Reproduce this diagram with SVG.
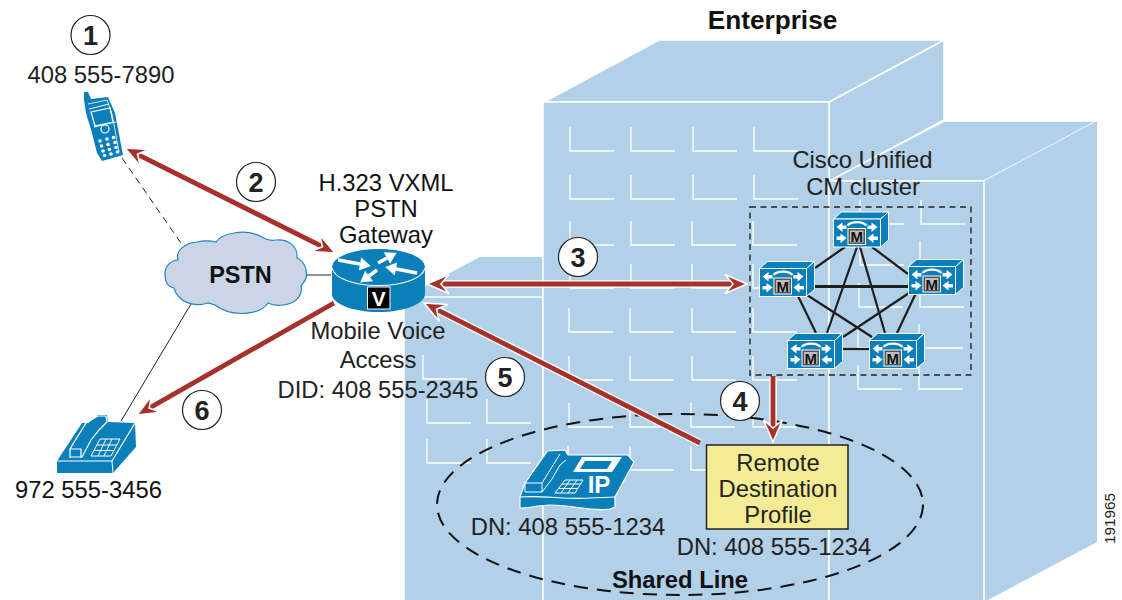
<svg xmlns="http://www.w3.org/2000/svg" xmlns:xlink="http://www.w3.org/1999/xlink" width="1122" height="600" viewBox="0 0 1122 600">
<style>
text{font-family:"Liberation Sans",Arial,sans-serif;font-size:23.8px;fill:#222;text-anchor:middle}
.b{font-weight:bold;fill:#111}
.num{font-weight:bold;font-size:27px;fill:#222}
.bld{fill:#b2d0e8;stroke:#fff;stroke-width:1.5}
.win{fill:none;stroke:#fff;stroke-width:1.3}
.circ{fill:#fff;stroke:#222;stroke-width:1.2}
.blue{fill:#0a7fba}
.wl{fill:none;stroke:#fff;stroke-width:1}
.halo{stroke:#fff;stroke-width:7.5;fill:none}
.arr{stroke:#a5322a;stroke-width:4.8;fill:none}
.mesh{stroke:#1e1e1e;stroke-width:2.2;fill:none}
.thin{stroke:#222;stroke-width:1;fill:none}
.mt{font-weight:bold;font-size:15px;fill:#111}
</style>
<defs>
<marker id="head" markerUnits="userSpaceOnUse" markerWidth="36" markerHeight="32" refX="9" refY="16" orient="auto-start-reverse"><path d="M1,6.5 L23,16 L1,25.5 L9,16 Z" fill="#a5322a" stroke="#fff" stroke-width="1.6"/></marker>
<marker id="wh" markerUnits="userSpaceOnUse" markerWidth="16" markerHeight="16" refX="3" refY="8" orient="auto"><path d="M3,1.5 L14,8 L3,14.5 Z" fill="#fff"/></marker>
<g id="w"><path class="win" d="M0,-24 V0 H44"/></g>
<g id="cube">
<path d="M0,0 L8,-7 H55 L47,0 Z" class="blue" stroke="#fff" stroke-width="1"/>
<path d="M47,0 L55,-7 V21 L47,28 Z" class="blue" stroke="#fff" stroke-width="1"/>
<rect x="0" y="0" width="47" height="28" class="blue" stroke="#fff" stroke-width="1"/>
<path d="M14,6.5 C18,2 29,2 33,6.5" fill="none" stroke="#fff" stroke-width="2.2"/>
<path d="M3,8 L9,3.5 V6.5 H13 V10 H9 V13 Z M13,19 L7,14.5 V17.5 H3 V21 H7 V24 Z M44,8 L38,3.5 V6.5 H34 V10 H38 V13 Z M34,19 L40,14.5 V17.5 H44.5 V21 H40 V24 Z" fill="#fff"/>
<rect x="14.5" y="9.5" width="17.5" height="16" fill="#555" stroke="#fff" stroke-width="1"/>
<rect x="16.5" y="11.5" width="13.5" height="12" fill="#bdbdbd"/>
</g>
</defs>

<g id="buildings">
<path class="bld" d="M829,102 L944,40 V120 L829,182 Z"/>
<path class="bld" d="M544,102 L659,40 H944 L829,102 Z"/>
<path class="bld" d="M829,181 L944,121 H1097 L984,181 Z"/>
<path class="bld" style="stroke:none" d="M984,181 L1097,121 V542 L988,600 H984 Z"/>
<path class="bld" d="M404,297 L480,257 H544 V297 Z" style="stroke:none"/>
<rect class="bld" x="404" y="297" width="139" height="310"/>
<rect class="bld" x="543" y="102" width="286" height="505"/>
<rect class="bld" x="829" y="181" width="155" height="425"/>
<g id="windows">
<use href="#w" x="570" y="151"/><use href="#w" x="631" y="151"/><use href="#w" x="693" y="151"/><use href="#w" x="754" y="151"/>
<use href="#w" x="570" y="199"/><use href="#w" x="631" y="199"/><use href="#w" x="693" y="199"/><use href="#w" x="754" y="199"/>
<use href="#w" x="570" y="245"/><use href="#w" x="631" y="245"/><use href="#w" x="692" y="245"/><use href="#w" x="753" y="245"/>
<use href="#w" x="570" y="288"/><use href="#w" x="631" y="288"/><use href="#w" x="692" y="288"/><use href="#w" x="753" y="288"/>
<use href="#w" x="569" y="332"/><use href="#w" x="630" y="332"/><use href="#w" x="692" y="332"/><use href="#w" x="753" y="332"/>
<use href="#w" x="569" y="380"/><use href="#w" x="630" y="380"/><use href="#w" x="692" y="380"/><use href="#w" x="753" y="380"/>
<use href="#w" x="569" y="427"/><use href="#w" x="630" y="427"/><use href="#w" x="691" y="427"/><use href="#w" x="753" y="427"/>
<use href="#w" x="568" y="470"/><use href="#w" x="630" y="470"/><use href="#w" x="691" y="470"/>
<use href="#w" x="423" y="379"/><use href="#w" x="427" y="423"/><use href="#w" x="487" y="423"/><use href="#w" x="427" y="463"/><use href="#w" x="487" y="463"/>
<use href="#w" x="860" y="224"/><use href="#w" x="921" y="224"/><use href="#w" x="860" y="265"/><use href="#w" x="920" y="265"/>
<use href="#w" x="859" y="307"/><use href="#w" x="920" y="307"/><use href="#w" x="858" y="348"/><use href="#w" x="919" y="348"/><use href="#w" x="858" y="389"/><use href="#w" x="919" y="389"/>
</g>
</g>

<text x="772.5" y="29" class="b" style="font-size:26.2px">Enterprise</text>
<text x="862.5" y="168">Cisco Unified</text>
<text x="863" y="195">CM cluster</text>
<rect id="cluster-box" x="750" y="207" width="221" height="168" fill="none" stroke="#222" stroke-width="1.4" stroke-dasharray="6,4.5"/>
<ellipse id="shared-line-ellipse" cx="680" cy="504.5" rx="243" ry="90.5" fill="none" stroke="#111" stroke-width="2" stroke-dasharray="14,9"/>

<g id="connectors">
<path class="thin" stroke-dasharray="7,5" d="M122,158 L183,246"/>
<path class="thin" d="M306,275 H331"/>
<path class="thin" d="M191,304 L121,421"/>
<g id="mesh">
<path class="mesh" d="M845,247 L815,268"/>
<path class="mesh" d="M872,247 L908,274"/>
<path class="mesh" d="M857,247 L827,333"/>
<path class="mesh" d="M860,247 L885,333"/>
<path class="mesh" d="M798,296 L816,333"/>
<path class="mesh" d="M807,295 L872,337"/>
<path class="mesh" d="M909,293 L843,337"/>
<path class="mesh" d="M916,293 L897,333"/>
<path class="mesh" style="stroke-width:2.8" d="M815,286.5 H909"/>
<path class="mesh" d="M843,349 H870"/>
</g>
</g>

<g id="node-cloud">
<path d="M165,275 C164,266 172,260 178,260 C175,250 186,243 197,242 C205,240 212,241 216,242 C222,233 246,228 262,237 C268,241 272,241 276,240 C288,239 298,246 297,258 C304,261 308,270 306,278 C305,282 302,284 301,286 C303,296 295,304 283,305 C277,306 272,305 268,303 C260,315 232,318 215,305 L208,303 C195,307 178,303 174,288 C168,287 165,282 165,275Z" fill="#cbd5e5" stroke="#1e86c0" stroke-width="1.2"/>
<text x="240.5" y="283" class="b" style="font-size:23.5px">PSTN</text>
</g>

<g id="node-router">
<path d="M332,267 V294 C332,304 353,312 378.5,312 C404,312 425,304 425,294 V267 Z" class="blue"/>
<ellipse cx="378.5" cy="267" rx="46.5" ry="18" class="blue"/>
<path d="M332,268 C334,278 353,285.5 378.5,285.5 C404,285.5 423,278 425,268" fill="none" stroke="#fff" stroke-width="1.2"/>
<g stroke="#fff" stroke-width="3.6" fill="none">
<path d="M338,260 L360,264" marker-end="url(#wh)"/>
<path d="M378,263 L387,258" marker-end="url(#wh)"/>
<path d="M377,270 L369,276" marker-end="url(#wh)"/>
<path d="M417,273 L396,269" marker-end="url(#wh)"/>
</g>
<rect x="367.5" y="287" width="22.5" height="22" fill="#000" stroke="#fff" stroke-width="1"/>
<text x="378.7" y="306" style="font-weight:bold;font-size:21px;fill:#fff">V</text>
</g>

<g id="node-mobile">
<path class="blue" d="M84,92 L88,92 L91,99 L108,97 L115,113 L123,155 L102,161 L97,153 L92,133 L86,113 L84,100 Z"/>
<path d="M88,104 L107,100 L112,114 L119,152" fill="none" stroke="#fff" stroke-width="0.8"/>
<path d="M91,112 L110,108 L113,122 L95,126 Z" fill="#0a7fba" stroke="#fff" stroke-width="1.2"/>
<path d="M89,109 L109,104" stroke="#fff" stroke-width="1"/>
<circle cx="105" cy="129" r="4" fill="#0a7fba" stroke="#fff" stroke-width="1.2"/>
<path d="M94,127 L116,122" stroke="#fff" stroke-width="1"/>
<g fill="#fff">
<circle cx="100" cy="141" r="1.8"/><circle cx="107" cy="139" r="1.8"/><circle cx="113.5" cy="137.5" r="1.8"/>
<circle cx="101.5" cy="146" r="1.8"/><circle cx="108" cy="144.5" r="1.8"/><circle cx="115" cy="142.5" r="1.8"/>
<circle cx="103" cy="151" r="1.8"/><circle cx="109.5" cy="149.5" r="1.8"/><circle cx="116" cy="147.5" r="1.8"/>
<circle cx="104.5" cy="155.5" r="1.8"/><circle cx="111" cy="154" r="1.8"/><circle cx="117.5" cy="152" r="1.8"/>
</g>
</g>

<g id="node-deskphone">
<path class="blue" d="M57,461 L82,423 L88,423 L98,415 L107,415 L108,422 L135,423 L136,447 L113,473 H57 Z"/>
<path class="wl" style="stroke-width:1.2" d="M57,461 H112 L135,423"/>
<path class="wl" d="M112,461 L113,473"/>
<path class="wl" style="stroke-width:1.2" d="M70,458 V449 L86,423 L98,416 H106 L107,422 L99,430 L91,440 L82,457 H70 Z M70,449 H81 V458"/>
<path class="wl" d="M91,456 L100,439 H120 L111,456 Z M94,450.5 H114 M97,445 H117 M98,456 L106,439 M104,456 L112,439"/>
<text x="88.5" y="498" style="fill:#111">972 555-3456</text>
</g>

<g id="node-mobile-label">
<text x="101" y="83">408 555-7890</text>
</g>

<g id="node-gateway-label">
<text x="386" y="190.5" style="fill:#111">H.323 VXML</text>
<text x="386" y="217" style="fill:#111">PSTN</text>
<text x="386" y="243" style="fill:#111">Gateway</text>
<text x="378" y="339">Mobile Voice</text>
<text x="378" y="368">Access</text>
<text x="378" y="398">DID: 408 555-2345</text>
</g>

<g id="node-ipphone">
<path class="blue" stroke="#fff" stroke-width="1.2" d="M520,497 L525,483 L547,451 L565,450 L568,455 L628,455 L634,462 L615,497 V507 L610,509 C590,512 575,505 550,505 C540,505 530,508 520,508 Z"/>
<path class="wl" style="stroke-width:1.2" d="M520,497 C540,495 570,500 590,498 L615,497"/>
<path class="wl" d="M525,483 V492 H542 V483 H525 M542,483 L560,454 M525,483 L547,452 M542,492 L552,479 L560,465 L566,460"/>
<path d="M573,472 L582,457 H622 L612,472 Z" fill="#fff"/>
<path d="M580,469 L585,461 H612 L607,469 Z" class="blue"/>
<path class="wl" d="M555,493 L565,480 H583 L575,493 Z M558.5,488.5 H578 M562,484 H581 M561,493 L570,480 M568,493 L577,480"/>
<text x="599" y="493" style="font-weight:bold;font-size:24px;fill:#fff">IP</text>
<text x="568" y="535">DN: 408 555-1234</text>
</g>

<g id="node-rdp">
<rect x="706.5" y="445" width="141.5" height="84" fill="#f5eb95" stroke="#222" stroke-width="1.5"/>
<text x="778" y="471">Remote</text>
<text x="778" y="497">Destination</text>
<text x="778" y="523">Profile</text>
<text x="774" y="555">DN: 408 555-1234</text>
</g>
<text id="shared-line-label" x="680" y="588" class="b">Shared Line</text>

<g id="node-cm1"><use href="#cube" x="833.5" y="219"/><text x="856.8" y="242" class="mt">M</text></g>
<g id="node-cm2"><use href="#cube" x="759.5" y="268.5"/><text x="782.8" y="291.5" class="mt">M</text></g>
<g id="node-cm3"><use href="#cube" x="908.5" y="266.5"/><text x="931.8" y="289.5" class="mt">M</text></g>
<g id="node-cm4"><use href="#cube" x="787.5" y="340.5"/><text x="810.8" y="363.5" class="mt">M</text></g>
<g id="node-cm5"><use href="#cube" x="869.5" y="340.5"/><text x="892.8" y="363.5" class="mt">M</text></g>

<g id="arrows">
<path class="halo" d="M137.5,154.3 L322.5,246.7"/><path class="arr" marker-start="url(#head)" marker-end="url(#head)" d="M137.5,154.3 L322.5,246.7"/>
<path class="halo" d="M441,284 H733"/><path class="arr" marker-start="url(#head)" marker-end="url(#head)" d="M441,284 H733"/>
<path class="halo" d="M436.5,309.3 L700,443"/><path class="arr" marker-start="url(#head)" d="M436.5,309.3 L700,443"/>
<path class="arr" marker-end="url(#head)" d="M334,303 L149.2,408.1"/>
<path class="halo" d="M773,377 V428"/><path class="arr" marker-end="url(#head)" d="M773,376 V428"/>
</g>

<g id="step-markers">
<circle class="circ" cx="90.5" cy="35" r="19.5"/><text class="num" x="90.5" y="45">1</text>
<circle class="circ" cx="256" cy="182" r="19.5"/><text class="num" x="256" y="192">2</text>
<circle class="circ" cx="578" cy="257" r="19.5"/><text class="num" x="578" y="267">3</text>
<circle class="circ" cx="740" cy="401" r="19.5"/><text class="num" x="740" y="411">4</text>
<circle class="circ" cx="505" cy="377" r="19.5"/><text class="num" x="505" y="387">5</text>
<circle class="circ" cx="202" cy="410" r="19.5"/><text class="num" x="202" y="420">6</text>
</g>

<text x="0" y="0" transform="translate(1115,518.5) rotate(-90)" style="font-size:15.3px">191965</text>
</svg>
